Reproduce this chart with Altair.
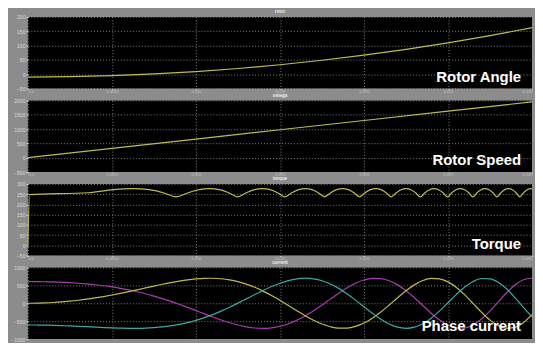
import altair as alt
import pandas as pd

# ---------------- data ----------------
# Rotor angle (deg)
t_angle = [0.0, 0.0025, 0.005, 0.0075, 0.01, 0.0125, 0.015, 0.0175, 0.02, 0.0225, 0.025, 0.0275, 0.03]
rotor_angle = [-10, -8.8, -5.2, 0.8, 9.1, 19.9, 33.0, 48.6, 66.5, 86.8, 109.5, 134.6, 162.1]

# Rotor speed
t_speed = [0.0, 0.005, 0.01, 0.015, 0.02, 0.025, 0.03]
rotor_speed = [0, 325, 650, 975, 1300, 1625, 1950]

# Torque
t_torque = [0.0, 0.0001, 0.003604, 0.005096, 0.006242, 0.007207, 0.008058, 0.008827, 0.009535,
            0.010193, 0.010811, 0.011396, 0.011952, 0.012484, 0.012993, 0.013484, 0.013957,
            0.014415, 0.014858, 0.015289, 0.015708, 0.016116, 0.016514, 0.016903, 0.017283,
            0.017654, 0.018019, 0.018375, 0.018725, 0.019069, 0.019407, 0.019738, 0.020065,
            0.020386, 0.020702, 0.021013, 0.021320, 0.021622, 0.021920, 0.022215, 0.022505,
            0.022792, 0.023075, 0.023355, 0.023631, 0.023904, 0.024174, 0.024441, 0.024706,
            0.024967, 0.025226, 0.025482, 0.025735, 0.025987, 0.026235, 0.026482, 0.026726,
            0.026968, 0.027207, 0.027445, 0.027680, 0.027914, 0.028146, 0.028375, 0.028603,
            0.028830, 0.029054, 0.029276, 0.029498, 0.029717, 0.029934, 0.03]
torque = [0, 248, 257, 272, 277, 272, 257, 237, 257, 272, 277, 272, 257, 237, 257, 272, 277, 272,
          257, 237, 257, 272, 277, 272, 257, 237, 257, 272, 277, 272, 257, 237, 257, 272, 277, 272,
          257, 237, 257, 272, 277, 272, 257, 237, 257, 272, 277, 272, 257, 237, 257, 272, 277, 272,
          257, 237, 257, 272, 277, 272, 257, 237, 257, 272, 277, 272, 257, 237, 257, 272, 277, 275]

# Phase currents
t_current = [0.0, 0.0005, 0.001, 0.0015, 0.002, 0.0025, 0.003, 0.0035, 0.004, 0.0045,
             0.005, 0.0055, 0.006, 0.0065, 0.007, 0.0075, 0.008, 0.0085, 0.009, 0.0095,
             0.01, 0.0105, 0.011, 0.0115, 0.012, 0.0125, 0.013, 0.0135, 0.014, 0.0145,
             0.015, 0.0155, 0.016, 0.0165, 0.017, 0.0175, 0.018, 0.0185, 0.019, 0.0195,
             0.02, 0.0205, 0.021, 0.0215, 0.022, 0.0225, 0.023, 0.0235, 0.024, 0.0245,
             0.025, 0.0255, 0.026, 0.0265, 0.027, 0.0275, 0.028, 0.0285, 0.029, 0.0295, 0.03]
current_a = [606, 605, 601, 596, 586, 575, 560, 541, 518, 490, 456, 418, 374, 323, 266, 201,
             130, 54, -29, -116, -205, -295, -383, -467, -543, -608, -658, -690, -700, -685,
             -643, -573, -476, -354, -210, -51, 116, 279, 431, 558, 649, 696, 690, 630, 514,
             352, 154, -63, -279, -470, -614, -691, -688, -602, -438, -213, 45, 300, 517, 658, 699]
current_b = [0, 2, 10, 21, 38, 59, 84, 114, 149, 188, 231, 277, 325, 376, 428, 480, 531, 578,
             620, 656, 682, 697, 699, 685, 654, 604, 535, 447, 340, 217, 82, -61, -206, -346,
             -473, -579, -656, -696, -693, -645, -552, -415, -244, -50, 154, 348, 514, 635, 696,
             684, 598, 443, 234, -9, -254, -471, -628, -698, -667, -535, -318]
current_c = [-606, -607, -611, -616, -624, -633, -644, -655, -667, -678, -688, -695, -699, -699,
             -694, -681, -661, -631, -591, -540, -477, -402, -316, -219, -111, 4, 123, 243, 359,
             467, 561, 634, 682, 700, 683, 630, 540, 416, 262, 88, -97, -280, -446, -580, -668,
             -700, -668, -572, -416, -214, 16, 247, 455, 610, 692, 684, 582, 397, 150, -123, -381]

# ---------------- styling ----------------
BG = "#8c8c8c"
LINE = "#bdbd4e"
T_DOMAIN = [0, 0.03]
T_TICKS = [0, 0.005, 0.01, 0.015, 0.02, 0.025, 0.03]
W, H = 507, 72


def x_enc(show_labels=True):
    if show_labels:
        ax = alt.Axis(values=T_TICKS, title=None, labelFontSize=4, labelColor="#c4c4c4",
                      tickSize=1, labelPadding=0, format="g")
    else:
        ax = alt.Axis(values=T_TICKS, title=None, labels=False, ticks=False)
    return alt.X("t:Q", scale=alt.Scale(domain=T_DOMAIN, nice=False, zero=False), axis=ax)


def y_enc(field, domain, step):
    ticks = list(range(domain[0], domain[1] + 1, step))
    return alt.Y(f"{field}:Q", scale=alt.Scale(domain=domain, nice=False, zero=False),
                 axis=alt.Axis(values=ticks, title=None, format="d"))


def label_layer(text, y=60):
    return alt.Chart(pd.DataFrame({"s": [text]})).mark_text(
        font="Liberation Sans", fontWeight="bold", fontSize=15, color="white",
        align="right", baseline="middle"
    ).encode(x=alt.value(496), y=alt.value(y), text="s:N")


def panel(layers, title):
    return alt.layer(*layers).properties(
        width=W, height=H,
        title=alt.TitleParams(title, fontSize=4.5, color="#f0f0f0", offset=1,
                              anchor="middle", font="Liberation Sans"))


df_angle = pd.DataFrame({"t": t_angle, "v": rotor_angle})
df_speed = pd.DataFrame({"t": t_speed, "v": rotor_speed})
df_torque = pd.DataFrame({"t": t_torque, "v": torque})
df_curr = pd.concat([
    pd.DataFrame({"t": t_current, "v": current_a, "ph": "a"}),
    pd.DataFrame({"t": t_current, "v": current_b, "ph": "b"}),
    pd.DataFrame({"t": t_current, "v": current_c, "ph": "c"}),
])

p1 = panel([
    alt.Chart(df_angle).mark_line(color=LINE, strokeWidth=1.2, interpolate="monotone").encode(
        x=x_enc(), y=y_enc("v", [-50, 200], 50)),
    label_layer("Rotor Angle"),
], "rotor")

p2 = panel([
    alt.Chart(df_speed).mark_line(color=LINE, strokeWidth=1.2).encode(
        x=x_enc(), y=y_enc("v", [-500, 2000], 500)),
    label_layer("Rotor Speed"),
], "omega")

p3 = panel([
    alt.Chart(df_torque).mark_line(color=LINE, strokeWidth=1.2, interpolate="monotone").encode(
        x=x_enc(), y=y_enc("v", [-50, 300], 50)),
    label_layer("Torque"),
], "torque")

p4 = panel([
    alt.Chart(df_curr).mark_line(strokeWidth=1.2, interpolate="monotone").encode(
        x=x_enc(False), y=y_enc("v", [-1000, 1000], 500),
        color=alt.Color("ph:N", scale=alt.Scale(domain=["a", "b", "c"],
                                                range=["#a83cb0", "#bdbd4e", "#3aaaa0"]),
                        legend=None)),
    label_layer("Phase current", 59),
], "current")

chart = alt.vconcat(p1, p2, p3, p4, spacing=12, bounds="flush").properties(
    background=BG,
    padding={"left": 2, "top": 0, "right": 0, "bottom": 0},
).configure_view(fill="black", stroke=None).configure_axis(
    domain=False,
    grid=True,
    gridColor="#a0a0a0",
    gridDash=[1, 2],
    gridWidth=0.8,
    labelColor="#dcdcdc",
    labelFontSize=5,
    labelFont="Liberation Sans",
    tickColor="#dcdcdc",
    tickSize=2,
    labelPadding=1,
)

chart.save("out.html", embed_options={"renderer": "svg", "actions": False})
